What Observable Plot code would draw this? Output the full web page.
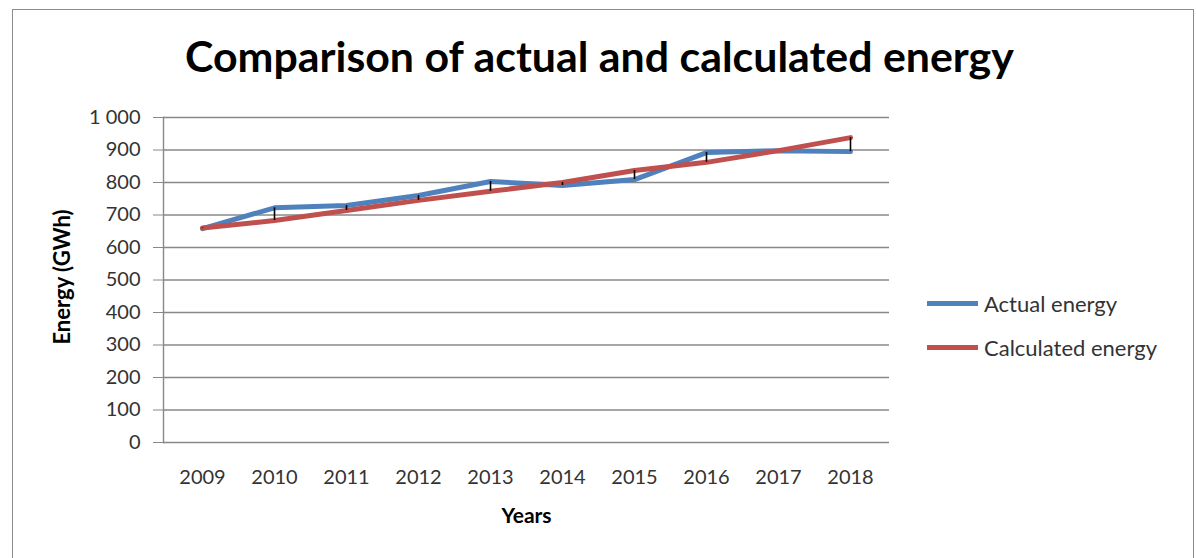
<!DOCTYPE html>
<html>
<head>
<meta charset="utf-8">
<script src="https://cdn.jsdelivr.net/npm/d3@7"></script>
<script src="https://cdn.jsdelivr.net/npm/@observablehq/plot@0.6"></script>
<style>
  html, body { margin: 0; padding: 0; background: #fff; }
  #wrap { position: relative; width: 1196px; height: 558px; overflow: hidden; font-family: Lato, "Open Sans", sans-serif; }
  #border { position: absolute; left: 12px; top: 9px; width: 1182px; height: 560px; border: 1px solid #8c8c8c; box-sizing: border-box; }
  #title { position: absolute; left: 185px; top: 38px; line-height: 1; font-size: 39px; font-weight: bold; color: #000; white-space: nowrap; }
  #chart { position: absolute; left: 0; top: 0; }
  .leg { position: absolute; left: 927px; height: 30px; font-size: 22px; color: #333; display: flex; align-items: center; white-space: nowrap; }
  .leg span.sw { display: inline-block; width: 51px; height: 5px; margin-right: 6px; }
</style>
</head>
<body>
<div id="wrap">
  <div id="border"></div>
  <div id="chart"></div>
  <div id="title">Comparison of actual and calculated energy</div>
  <div class="leg" style="top:288px"><span class="sw" style="background:#4F81BD"></span>Actual energy</div>
  <div class="leg" style="top:332px"><span class="sw" style="background:#C0504D"></span>Calculated energy</div>
</div>
<script>
const years = ["2009","2010","2011","2012","2013","2014","2015","2016","2017","2018"];
const actualEnergy = [658, 722, 729, 760, 803, 791, 809, 892, 898, 895];
const calculatedEnergy = [660, 683, 714, 745, 773, 800, 837, 862, 898, 938];
const yTicks = [0, 100, 200, 300, 400, 500, 600, 700, 800, 900, 1000];

const actualRows = years.map((y, i) => ({year: y, value: actualEnergy[i]}));
const calcRows = years.map((y, i) => ({year: y, value: calculatedEnergy[i]}));
const pairRows = years.map((y, i) => ({year: y, a: actualEnergy[i], c: calculatedEnergy[i]}));

const fmt = d => d3.format(",")(d).replace(",", " ");

// fit the title to the reference width (830px)
(function fitTitle() {
  const el = document.getElementById("title");
  const ctx = document.createElement("canvas").getContext("2d");
  ctx.font = "bold 39px Lato";
  const w = ctx.measureText(el.textContent).width;
  if (w > 0) {
    const fs = Math.max(32, Math.min(46, 39 * 830 / w));
    el.style.fontSize = fs + "px";
    el.style.top = (73 - 0.887 * fs) + "px";
  }
})();

const chart = Plot.plot({
  width: 1196,
  height: 558,
  marginLeft: 163,
  marginRight: 307,
  marginTop: 117,
  marginBottom: 116,
  style: {background: "transparent", fontFamily: "Lato, 'Open Sans', sans-serif", fontSize: "20px", color: "#333"},
  x: {type: "point", domain: years, padding: 0.5},
  y: {domain: [0, 1000]},
  marks: [
    Plot.gridY(yTicks, {stroke: "#888", strokeOpacity: 1, strokeWidth: 1.4}),
    Plot.axisY(yTicks, {tickSize: 10, tickPadding: 13, tickFormat: fmt, stroke: "#888", strokeOpacity: 1, fontSize: 20, label: null}),
    Plot.axisX({tickSize: 0, tickPadding: 27, fontSize: 20, label: null}),
    Plot.frame({anchor: "left", stroke: "#888", strokeWidth: 1.4}),
    Plot.lineY(actualRows, {x: "year", y: "value", stroke: "#4F81BD", strokeWidth: 5}),
    Plot.lineY(calcRows, {x: "year", y: "value", stroke: "#C0504D", strokeWidth: 5}),
    Plot.ruleX(pairRows, {x: "year", y1: "a", y2: "c", stroke: "#000", strokeWidth: 1.6}),
    Plot.text(["Years"], {frameAnchor: "bottom", dy: 80, textAnchor: "middle", fontWeight: "bold", fontSize: 21, fill: "#000"}),
    Plot.text(["Energy (GWh)"], {frameAnchor: "left", dx: -101, dy: -3, textAnchor: "middle", rotate: -90, fontWeight: "bold", fontSize: 22, fill: "#000"})
  ]
});
document.getElementById("chart").appendChild(chart);
</script>
</body>
</html>
